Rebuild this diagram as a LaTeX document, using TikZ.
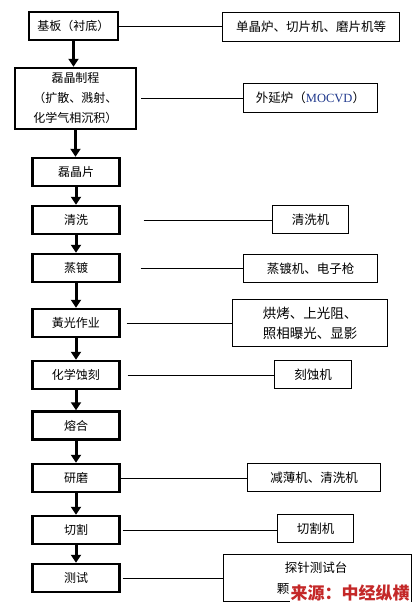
\documentclass[tikz,border=0pt]{standalone}
\usepackage{fontspec}
\setmainfont{Noto Sans CJK SC}
\newfontfamily\latinserif{Liberation Serif}
\usetikzlibrary{arrows.meta}

\begin{document}
\begin{tikzpicture}[x=1pt,y=-1pt,
    stage/.style={draw,line width=2.4pt,minimum width=87pt,minimum height=28pt,inner sep=0pt,align=center,font=\fontsize{12}{20}\selectfont},
    tool/.style={draw,line width=0.8pt,inner sep=0pt,align=center,font=\fontsize{12.5}{20}\selectfont},
    flow/.style={line width=3pt,-{Triangle[width=10pt,length=8pt]}},
    link/.style={line width=0.8pt}]
  \useasboundingbox (0,0) rectangle (413,606);
  % process steps
  \node[stage,minimum width=89pt] (jiban) at (73.5,26) {基板（衬底）};
  \node[stage,minimum width=121pt,minimum height=61pt] (leijing) at (75.5,98.5) {磊晶制程\\（扩散、溅射、\\化学气相沉积）};
  \node[stage] (jingpian) at (76,172) {磊晶片};
  \node[stage] (qingxi) at (76,220) {清洗};
  \node[stage] (zhengdu) at (76,268) {蒸镀};
  \node[stage] (huangguang) at (76,323) {黃光作业};
  \node[stage] (shike) at (76,375) {化学蚀刻};
  \node[stage] (ronghe) at (76,425.5) {熔合};
  \node[stage] (yanmo) at (76,478) {研磨};
  \node[stage] (qiege) at (76,530) {切割};
  \node[stage] (ceshi) at (76,578) {测试};
  % equipment
  \node[tool,minimum width=177pt,minimum height=29pt] (jibantool) at (311,27) {单晶炉、切片机、磨片机等};
  \node[tool,minimum width=134pt,minimum height=29pt] (leijingtool) at (310.5,98) {外延炉（{\latinserif\color[rgb]{0.12,0.22,0.55}MOCVD}）};
  \node[tool,minimum width=76pt,minimum height=28pt] (qingxitool) at (310.5,219.5) {清洗机};
  \node[tool,minimum width=134pt,minimum height=28pt] (zhengdutool) at (310.5,268.5) {蒸镀机、电子枪};
  \node[tool,minimum width=155pt,minimum height=47pt,font=\fontsize{13.5}{20}\selectfont] (huangguangtool) at (310,323) {烘烤、上光阻、\\照相曝光、显影};
  \node[tool,minimum width=77pt,minimum height=28pt] (shiketool) at (313,374.5) {刻蚀机};
  \node[tool,minimum width=133pt,minimum height=28pt] (yanmotool) at (314,477.5) {减薄机、清洗机};
  \node[tool,minimum width=76pt,minimum height=28pt] (qiegetool) at (315.5,528.5) {切割机};
  \node[tool,minimum width=188pt,minimum height=47pt] (ceshitool) at (317.5,578) {};
  \node[font=\fontsize{12.5}{20}\selectfont] (ceshiline1) at (316,568) {探针测试台};
  \node[font=\fontsize{12.5}{20}\selectfont] (ceshiline2) at (283,589) {颗};
  \node[fill=white,inner sep=1pt,text={rgb,255:red,196;green,40;blue,40},font=\fontsize{17}{20}\selectfont\bfseries] (source) at (350,593.5) {来源：中经纵横};
  % arrows
  \foreach \a/\b in {jiban/leijing,leijing/jingpian,jingpian/qingxi,qingxi/zhengdu,zhengdu/huangguang,huangguang/shike,shike/ronghe,ronghe/yanmo,yanmo/qiege,qiege/ceshi}
    \draw[flow] (\a.south) -- (\a.south |- \b.north);
  % lines to equipment
  \draw[link] (jiban.east) -- (jiban.east -| jibantool.west);
  \draw[link,shorten <=4pt] (leijing.east) -- (leijing.east -| leijingtool.west);
  \draw[link,shorten <=23pt] (qingxi.east) -- (qingxi.east -| qingxitool.west);
  \draw[link,shorten <=20pt] (zhengdu.east) -- (zhengdu.east -| zhengdutool.west);
  \draw[link,shorten <=6pt] (huangguang.east) -- (huangguang.east -| huangguangtool.west);
  \draw[link,shorten <=7pt] (shike.east) -- (shike.east -| shiketool.west);
  \draw[link] (yanmo.east) -- (yanmo.east -| yanmotool.west);
  \draw[link,shorten <=2pt] (qiege.east) -- (qiege.east -| qiegetool.west);
  \draw[link,shorten <=2pt] (ceshi.east) -- (ceshi.east -| ceshitool.west);
\end{tikzpicture}
\end{document}
